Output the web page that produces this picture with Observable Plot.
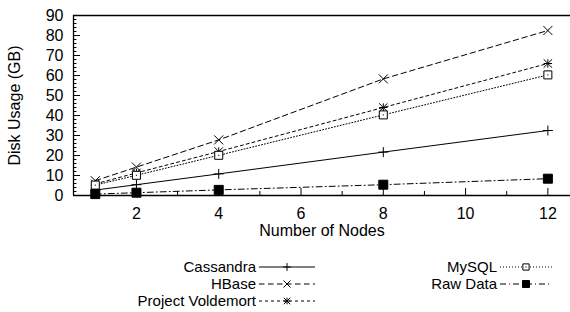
<!DOCTYPE html>
<html>
<head>
<meta charset="utf-8">
<script src="https://cdn.jsdelivr.net/npm/d3@7"></script>
<script src="https://cdn.jsdelivr.net/npm/@observablehq/plot@0.6"></script>
<style>
  html, body { margin: 0; padding: 0; background: #fff; }
  #wrap { position: relative; width: 570px; height: 312px; overflow: hidden; font-family: "Liberation Sans", Arial, sans-serif; }
  #legend { position: absolute; left: 0; top: 250px; }
</style>
</head>
<body>
<div id="wrap"></div>
<script>
// ---- data ----
const nodes = [1, 2, 4, 8, 12];
const seriesNames = ["Cassandra", "HBase", "Project Voldemort", "MySQL", "Raw Data"];
const cassandra = [2.7, 5.4, 10.8, 21.7, 32.5];
const hbase = [7.4, 14.2, 27.8, 58.3, 82.5];
const voldemort = [5.8, 11.3, 22.0, 44.0, 66.0];
const mysql = [5.2, 10.1, 20.1, 40.3, 60.3];
const rawData = [0.7, 1.4, 2.8, 5.4, 8.4];
const xTicks = [2, 4, 6, 8, 10, 12];
const xMinorTicks = [1, 3, 5, 7, 9, 11];
const yTicks = [0, 10, 20, 30, 40, 50, 60, 70, 80, 90];
const yMinorTicks = d3.range(0, 91, 2).filter(v => v % 10 !== 0);
const xDomain = [0.47, 12.55];
const yDomain = [0, 90];

// ---- symbols (size = pi r^2, so r recovers half-width in px) ----
const rad = s => Math.sqrt(s / Math.PI);
const symPlus = { draw(c, s) { const r = rad(s); c.moveTo(-r, 0); c.lineTo(r, 0); c.moveTo(0, -r); c.lineTo(0, r); } };
const symTimes = { draw(c, s) { const r = rad(s); c.moveTo(-r, -r); c.lineTo(r, r); c.moveTo(-r, r); c.lineTo(r, -r); } };
const symStar = { draw(c, s) { const r = rad(s); c.moveTo(-r, 0); c.lineTo(r, 0); c.moveTo(0, -r); c.lineTo(0, r); c.moveTo(-r, -r); c.lineTo(r, r); c.moveTo(-r, r); c.lineTo(r, -r); } };
const symBox = { draw(c, s) { const r = rad(s); c.moveTo(-r, -r); c.lineTo(r, -r); c.lineTo(r, r); c.lineTo(-r, r); c.closePath(); c.moveTo(-0.6, 0); c.lineTo(0.6, 0); } };
const symFill = { draw(c, s) { const r = rad(s); c.rect(-r, -r, 2 * r, 2 * r); } };

const styles = [
  { name: seriesNames[0], values: cassandra, dash: null, sym: symPlus, r: 5, fill: "none" },
  { name: seriesNames[1], values: hbase, dash: "5.5,3.5", sym: symTimes, r: 4.5, fill: "none" },
  { name: seriesNames[2], values: voldemort, dash: "3,3", sym: symStar, r: 4.2, fill: "none" },
  { name: seriesNames[3], values: mysql, dash: "1,2", sym: symBox, r: 4, fill: "white" },
  { name: seriesNames[4], values: rawData, dash: "6,3,1,3", sym: symFill, r: 4.5, fill: "black" }
];

const table = s => nodes.map((n, i) => ({ x: n, y: s.values[i] }));

const marks = [];
// frame (left, top, bottom)
marks.push(Plot.ruleY(yDomain, { stroke: "black", strokeWidth: 1.3 }));
marks.push(Plot.ruleX([xDomain[0]], { stroke: "black", strokeWidth: 1.3 }));
// axes
marks.push(Plot.axisY(yTicks, { tickSize: 0, tickPadding: 10, fontSize: 16, label: "Disk Usage (GB)", labelAnchor: "center", labelArrow: "none", labelOffset: 65 }));
marks.push(Plot.axisY(yTicks, { tickSize: -7, tickFormat: () => "", label: null }));
marks.push(Plot.axisY(yMinorTicks, { tickSize: -3.5, tickFormat: () => "", label: null }));
marks.push(Plot.axisX(xTicks, { tickSize: 0, tickPadding: 12, fontSize: 16, label: "Number of Nodes", labelAnchor: "center", labelArrow: "none", labelOffset: 40 }));
marks.push(Plot.axisX(xTicks, { tickSize: -7, tickFormat: () => "", label: null }));
marks.push(Plot.axisX(xMinorTicks, { tickSize: -4, tickFormat: () => "", label: null }));
// series
for (const s of styles) {
  marks.push(Plot.line(table(s), { x: "x", y: "y", stroke: "black", strokeWidth: 1, strokeDasharray: s.dash }));
}
for (const s of styles) {
  marks.push(Plot.dot(table(s), { x: "x", y: "y", symbol: s.sym, r: s.r, stroke: "black", strokeWidth: 1, fill: s.fill }));
}

const chart = Plot.plot({
  width: 570,
  height: 250,
  marginTop: 15,
  marginBottom: 55,
  marginLeft: 73,
  marginRight: 0,
  style: { fontFamily: "'Liberation Sans', Arial, sans-serif", fontSize: "16px", color: "black", background: "white" },
  x: { type: "linear", domain: xDomain },
  y: { domain: yDomain },
  marks
});
document.getElementById("wrap").appendChild(chart);

// ---- legend ----
const legendLayout = [
  { col: 0, row: 0 }, { col: 0, row: 1 }, { col: 0, row: 2 },
  { col: 1, row: 0 }, { col: 1, row: 1 }
];
const colTextEnd = [256, 497];
const colSample = [[259, 315], [500, 552]];
const rowY = [17, 34, 51];
const svg = d3.select("#wrap").append("svg")
  .attr("id", "legend").attr("width", 570).attr("height", 62)
  .style("font-family", "'Liberation Sans', Arial, sans-serif").style("font-size", "15px");
styles.forEach((s, i) => {
  const L = legendLayout[i];
  const y = rowY[L.row];
  svg.append("text").attr("x", colTextEnd[L.col]).attr("y", y).attr("dy", "0.35em")
    .attr("text-anchor", "end").attr("fill", "black").text(s.name);
  const [x0, x1] = colSample[L.col];
  svg.append("line").attr("x1", x0).attr("x2", x1).attr("y1", y).attr("y2", y)
    .attr("stroke", "black").attr("stroke-width", 1).attr("stroke-dasharray", s.dash);
  const lr = s.r * 0.78;
  svg.append("path").attr("transform", `translate(${(x0 + x1) / 2},${y})`)
    .attr("d", d3.symbol().type(s.sym).size(Math.PI * lr * lr)())
    .attr("stroke", "black").attr("stroke-width", 1).attr("fill", s.fill);
});
</script>
</body>
</html>
